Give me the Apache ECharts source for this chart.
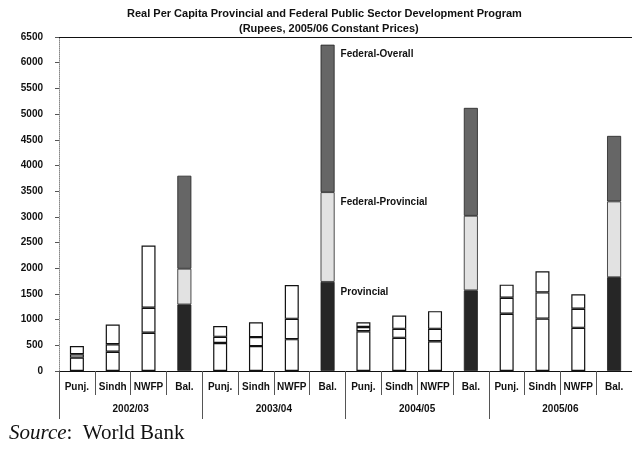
<!DOCTYPE html>
<html>
<head>
<meta charset="utf-8">
<script src="https://cdn.jsdelivr.net/npm/echarts@6/dist/echarts.min.js"></script>
<style>
html,body{margin:0;padding:0;background:#fff;}
#chart{width:632px;height:449px;}
</style>
</head>
<body>
<div id="chart"></div>
<script>
// ---- data ----
var provinces = ['Punj.', 'Sindh', 'NWFP', 'Bal.'];
var years = ['2002/03', '2003/04', '2004/05', '2005/06'];
var yTicks = [0, 500, 1000, 1500, 2000, 2500, 3000, 3500, 4000, 4500, 5000, 5500, 6000, 6500];
var provincial    = [260, 375, 745, 1295,   545, 485, 620, 1735,   775, 645, 580, 1570,   1115, 1020, 840, 1825];
var fedProvincial = [65, 145, 485, 695,     120, 175, 395, 1745,   80, 175, 240, 1450,    310, 510, 370, 1475];
var fedOverall    = [160, 385, 1210, 1810,  210, 290, 660, 2870,   95, 260, 345, 2100,    255, 410, 285, 1275];
var seriesNames = ['Provincial', 'Federal-Provincial', 'Federal-Overall'];

// ---- build ----
var categories = [];
years.forEach(function () { provinces.forEach(function (p) { categories.push(p); }); });

var balColors = ['#262626', '#e2e2e2', '#666666'];
var labelIndex = 7; // Bal. 2003/04 carries the segment names

function build(values, si) {
  return values.map(function (v, i) {
    var isBal = (i % 4) === 3;
    var item = {
      value: v,
      itemStyle: isBal
        ? { color: balColors[si], borderColor: '#222', borderWidth: 0.8 }
        : { color: '#ffffff', borderColor: '#111', borderWidth: 1.2 }
    };
    if (i === labelIndex) {
      item.label = {
        show: true,
        formatter: seriesNames[si],
        position: [20, 10],
        align: 'left',
        verticalAlign: 'middle',
        color: '#111',
        fontSize: 10,
        fontWeight: 'bold',
        fontFamily: 'Liberation Sans, Arial, sans-serif'
      };
    }
    return item;
  });
}

var chart = echarts.init(document.getElementById('chart'), null, { renderer: 'canvas' });
var font = 'Liberation Sans, Arial, sans-serif';

chart.setOption({
  animation: false,
  backgroundColor: '#fff',
  grid: { left: 59, right: -7, top: 37, bottom: 78 },
  graphic: [
    { type: 'text', left: 127, top: 8,
      style: { text: 'Real Per Capita Provincial and Federal Public Sector Development Program',
               font: 'bold 11px ' + font, fill: '#111' } },
    { type: 'text', left: 239, top: 23,
      style: { text: '(Rupees, 2005/06 Constant Prices)',
               font: 'bold 11px ' + font, fill: '#111' } },
    { type: 'text', left: 9, top: 423,
      style: { rich: {
                 i: { fontFamily: 'Liberation Serif, Times New Roman, serif', fontStyle: 'italic', fontSize: 21, fill: '#111' },
                 n: { fontFamily: 'Liberation Serif, Times New Roman, serif', fontSize: 21, fill: '#111' }
               },
               text: '{i|Source}{n|:  World Bank}' } }
  ],
  xAxis: [
    {
      type: 'category', data: categories, position: 'bottom',
      axisLine: { show: true, lineStyle: { color: '#111', width: 1 } },
      axisTick: { show: true, interval: 0, length: 24, lineStyle: { color: '#555', width: 1 } },
      axisLabel: { interval: 0, margin: 11, fontSize: 10, fontWeight: 'bold', color: '#111', fontFamily: font }
    },
    {
      type: 'category', data: years, position: 'bottom',
      axisLine: { show: false },
      axisTick: { show: true, interval: 0, length: 48, lineStyle: { color: '#555', width: 1 } },
      axisLabel: { interval: 0, margin: 33, fontSize: 10, fontWeight: 'bold', color: '#111', fontFamily: font }
    },
    {
      type: 'value', position: 'top', min: 0, max: 1,
      axisLine: { show: true, onZero: false, lineStyle: { color: '#111', width: 1.2 } },
      axisTick: { show: false }, axisLabel: { show: false }, splitLine: { show: false }
    }
  ],
  yAxis: {
    type: 'value', min: yTicks[0], max: yTicks[yTicks.length - 1], interval: 500,
    axisLine: { show: true, lineStyle: { color: '#888', width: 1, type: 'dotted' } },
    axisTick: { show: true, length: 4, lineStyle: { color: '#555' } },
    splitLine: { show: false },
    axisLabel: { margin: 16, fontSize: 10, fontWeight: 'bold', color: '#111', fontFamily: font,
                 formatter: function (v) { return String(v); } }
  },
  series: [
    { name: seriesNames[0], type: 'bar', stack: 'a', barWidth: 14, data: build(provincial, 0) },
    { name: seriesNames[1], type: 'bar', stack: 'a', barWidth: 14, data: build(fedProvincial, 1) },
    { name: seriesNames[2], type: 'bar', stack: 'a', barWidth: 14, data: build(fedOverall, 2) }
  ]
});
</script>
</body>
</html>
